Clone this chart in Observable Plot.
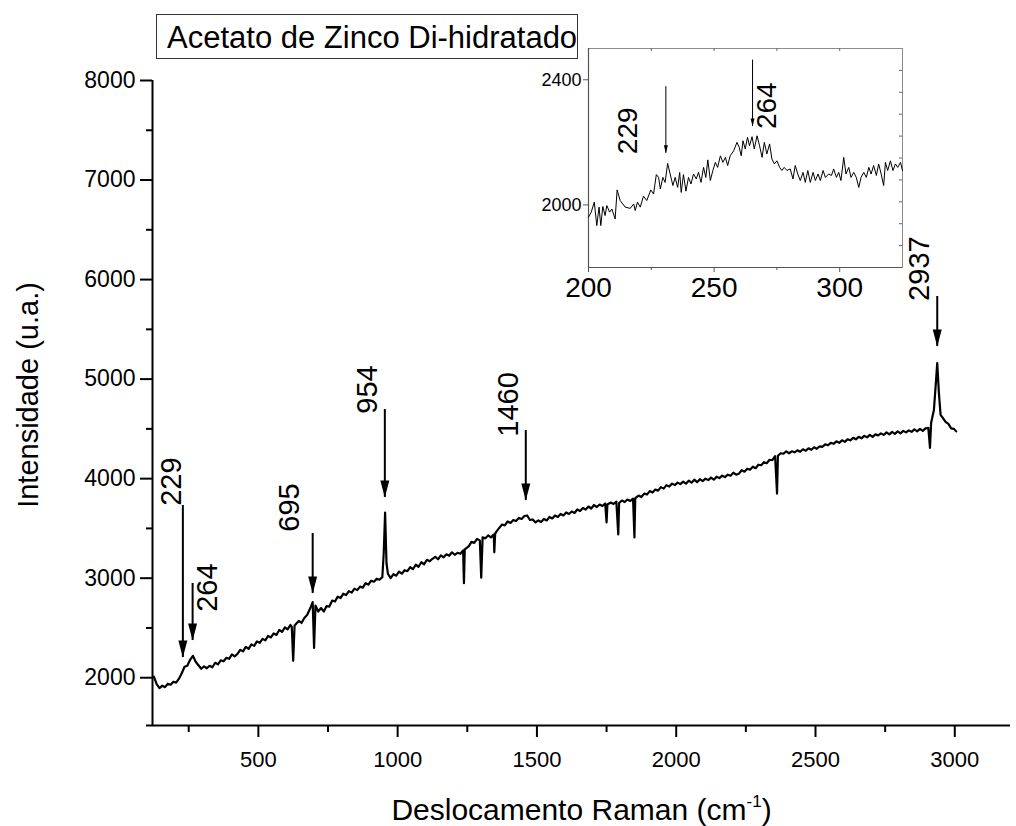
<!DOCTYPE html>
<html>
<head>
<meta charset="utf-8">
<script src="https://cdn.jsdelivr.net/npm/d3@7"></script>
<script src="https://cdn.jsdelivr.net/npm/@observablehq/plot@0.6"></script>
<style>
  body { margin: 0; background: #fff; }
  #wrap { position: relative; width: 1016px; height: 826px; font-family: "Liberation Sans", Arial, Helvetica, sans-serif; }
  #wrap svg { position: absolute; }
  #title { position: absolute; left: 156px; top: 14px; width: 422px; height: 45px; box-sizing: border-box;
           border: 1px solid #333; font-size: 31px; line-height: 46px; padding-left: 10px; color: #000; white-space: nowrap; }
</style>
</head>
<body>
<div id="wrap"><div id="title"></div></div>
<script>
// ---------- DATA ----------
const chartTitle = "Acetato de Zinco Di-hidratado";
const xTitleMain = "Deslocamento Raman (cm";
const xTitleSup = "-1";
const xTitleEnd = ")";
const yTitle = "Intensidade (u.a.)";

// Main spectrum (Raman shift, cm-1)
const shift = [
  125,135,145,155,165,175,185,195,205,215,
  225,235,245,255,265,275,285,295,305,315,
  325,335,345,355,365,375,385,395,405,415,
  425,435,445,455,465,475,485,495,505,515,
  525,535,545,555,565,575,585,595,605,615,
  620,625,630,645,655,665,675,685,695,700,705,715,
  725,735,745,755,765,775,785,795,805,815,
  825,835,845,855,865,875,885,895,905,915,
  925,935,945,950,955,960,965,975,985,995,1005,1015,
  1025,1035,1045,1055,1065,1075,1085,1095,1105,1115,
  1125,1135,1145,1155,1165,1175,1185,1195,1205,1215,
  1225,1235,1238,1241,1255,1265,1275,1285,1295,1300,1305,1315,
  1325,1335,1345,1347,1350,1355,1365,1375,1385,1395,1405,1415,
  1425,1435,1445,1455,1465,1475,1485,1495,1505,1515,
  1525,1535,1545,1555,1565,1575,1585,1595,1605,1615,
  1625,1635,1645,1655,1665,1675,1685,1695,1705,1715,
  1725,1735,1745,1750,1753,1765,1775,1785,1792,1795,1805,1815,
  1825,1835,1845,1850,1853,1865,1875,1885,1895,1905,1915,
  1925,1935,1945,1955,1965,1975,1985,1995,2005,2015,
  2025,2035,2045,2055,2065,2075,2085,2095,2105,2115,
  2125,2135,2145,2155,2165,2175,2185,2195,2205,2215,
  2225,2235,2245,2255,2265,2275,2285,2295,2305,2315,
  2325,2335,2345,2355,2362,2365,2375,2385,2395,2405,2415,
  2425,2435,2445,2455,2465,2475,2485,2495,2505,2515,
  2525,2535,2545,2555,2565,2575,2585,2595,2605,2615,
  2625,2635,2645,2655,2665,2675,2685,2695,2705,2715,
  2725,2735,2745,2755,2765,2775,2785,2795,2805,2815,
  2825,2835,2845,2855,2865,2875,2885,2895,2905,2911,2915,
  2925,2931,2937,2943,2949,2957,2967,2977,2987,2997,3005
];
// Main spectrum intensity (u.a.)
const intensity = [
  2010,1935,1895,1920,1905,1940,1930,1960,1950,1990,
  2045,2110,2120,2180,2220,2160,2125,2090,2115,2095,
  2120,2105,2150,2135,2175,2165,2200,2190,2235,2215,
  2240,2280,2265,2310,2290,2335,2320,2365,2350,2390,
  2375,2420,2405,2445,2430,2480,2460,2505,2485,2530,
  2510,2170,2525,2570,2550,2600,2630,2690,2760,2300,2725,2665,
  2700,2665,2720,2715,2775,2765,2815,2800,2845,2830,
  2870,2855,2895,2880,2915,2905,2950,2935,2975,2965,
  2995,2985,3010,3250,3660,3150,3045,3000,3040,3025,3065,3045,
  3080,3070,3110,3090,3135,3115,3160,3140,3185,3170,
  3195,3215,3190,3230,3210,3240,3225,3260,3235,3255,
  3245,3280,2950,3290,3320,3365,3355,3395,3380,3005,3410,3400,
  3430,3410,3440,3260,3445,3470,3505,3540,3530,3570,3555,3585,
  3575,3605,3595,3625,3630,3585,3590,3560,3580,3565,
  3595,3580,3615,3600,3630,3615,3645,3630,3660,3645,
  3670,3655,3690,3675,3705,3690,3720,3700,3735,3715,
  3740,3725,3750,3560,3740,3760,3745,3770,3440,3755,3780,3765,
  3790,3775,3800,3410,3805,3830,3815,3850,3840,3875,3860,
  3890,3880,3915,3900,3935,3920,3950,3935,3960,3945,
  3970,3950,3980,3960,3990,3965,3995,3975,4000,3985,
  4010,3990,4020,4005,4030,4015,4040,4030,4060,4040,
  4050,4085,4070,4100,4090,4120,4105,4140,4135,4165,
  4155,4190,4185,4225,3850,4230,4255,4250,4275,4255,4275,
  4265,4285,4270,4295,4280,4305,4290,4315,4300,4325,
  4320,4345,4335,4360,4350,4375,4360,4385,4370,4395,
  4385,4410,4395,4420,4405,4430,4415,4440,4420,4445,
  4435,4455,4440,4465,4445,4470,4450,4475,4455,4480,
  4465,4485,4470,4495,4475,4500,4480,4505,4510,4310,4560,
  4690,4920,5160,4860,4640,4610,4570,4550,4505,4500,4475
];

// Peak annotations (main chart)
const peakLabels     = ["229", "264", "695", "954", "1460", "2937"];
const peakShift      = [229, 264, 695, 954, 1460, 2937];
const arrowTail      = [3730, 2947, 3449, 4695, 4484, 5830];
const arrowTip       = [2203, 2374, 2846, 3811, 3780, 5328];
const labelShift     = [188, 317, 612, 892, 1400, 2873];
const labelIntensity = [3970, 2905, 3710, 4895, 4745, 6110];

// Main axes ticks
const xMajorTicks = [500, 1000, 1500, 2000, 2500, 3000];
const xMinorTicks = [250, 750, 1250, 1750, 2250, 2750];
const yMajorTicks = [2000, 3000, 4000, 5000, 6000, 7000, 8000];
const yMinorTicks = [2500, 3500, 4500, 5500, 6500, 7500];

// Inset spectrum (200-325 cm-1)
const insetShift = [
  200,201.1,202.3,203.3,204.2,204.9,205.7,206.6,207.3,208.4,209.3,210.6,211.4,212.6,214.6,216.6,218.0,218.6,219.5,220.6,
  221.9,223.2,224.8,225.9,227.0,227.9,228.6,229.6,230.5,231.5,232.5,233.6,234.5,235.5,236.3,236.9,237.8,238.8,239.8,240.8,
  241.8,242.9,243.8,244.8,245.8,246.7,247.5,248.5,249.5,250.5,251.4,252.5,253.5,254.5,255.4,256.4,257.8,259.1,260.0,260.8,
  261.5,262.4,263.3,264.1,265.1,266.0,267.1,268.1,269.1,270.0,271.0,272.1,273.0,274.0,275.0,276.1,277.0,277.9,279.0,280.3,
  281.4,282.3,283.3,284.3,285.4,286.3,287.3,288.3,289.4,290.3,291.4,292.3,293.4,294.3,295.6,296.7,297.6,298.7,299.6,300.5,
  301.6,302.5,303.6,304.5,305.6,306.6,307.6,308.5,309.6,310.6,311.6,312.5,313.5,314.6,315.5,316.5,317.5,318.2,319.1,320.2,
  321.2,322.2,323.1,324.2,325.0
];
const insetIntensity = [
  1961,1977,2009,1934,1993,1934,1995,1966,1998,1977,1987,1955,2048,2014,1993,1989,2003,1982,2009,1993,
  2028,2014,2048,2035,2097,2088,2051,2088,2072,2133,2099,2062,2088,2056,2104,2040,2097,2044,2088,2067,
  2099,2083,2104,2072,2120,2088,2144,2078,2110,2136,2120,2157,2136,2152,2126,2157,2173,2200,2184,2157,
  2205,2179,2216,2189,2218,2179,2221,2189,2152,2200,2163,2195,2147,2131,2141,2120,2110,2120,2110,2115,
  2083,2126,2099,2078,2104,2072,2110,2072,2104,2078,2099,2078,2110,2088,2099,2094,2115,2088,2104,2078,
  2152,2099,2120,2088,2104,2088,2056,2088,2104,2088,2120,2099,2126,2094,2131,2099,2062,2136,2110,2141,
  2110,2131,2120,2136,2110
];

// Inset annotations
const insetLabels         = ["229", "264"];
const insetArrowShift     = [230.8, 265.3];
const insetArrowTail      = [2378, 2463];
const insetArrowTip       = [2165, 2251];
const insetLabelShift     = [215.9, 271.0];
const insetLabelIntensity = [2237, 2317];

// Inset ticks
const insetXMajor = [200, 250, 300];
const insetXMinor = [225, 275];
const insetYMajor = [2000, 2400];
const insetTopTicks = [225, 250, 275, 300];
const insetRightTicks = [1870, 1940, 2010, 2080, 2150, 2220, 2290, 2360, 2430];

// ---------- BUILD ----------
const FONT = '"Liberation Sans", Arial, Helvetica, sans-serif';
const spectrum = shift.map((x, i) => ({x, y: intensity[i]}));
const peaks = peakLabels.map((label, i) => ({
  label, x: peakShift[i], tail: arrowTail[i], tip: arrowTip[i], lx: labelShift[i], ly: labelIntensity[i]
}));
const insetSpectrum = insetShift.map((x, i) => ({x, y: insetIntensity[i]}));
const insetPeaks = insetLabels.map((label, i) => ({
  label, x: insetArrowShift[i], tail: insetArrowTail[i], tip: insetArrowTip[i],
  lx: insetLabelShift[i], ly: insetLabelIntensity[i]
}));

const headMain = {draw(ctx) { ctx.moveTo(0, 0); ctx.lineTo(-4.5, -17); ctx.lineTo(4.5, -17); ctx.closePath(); }};
const headInset = {draw(ctx) { ctx.moveTo(0, 0); ctx.lineTo(-2, -8); ctx.lineTo(2, -8); ctx.closePath(); }};
const blank = () => "";
const plain = d3.format("d");

document.getElementById("title").textContent = chartTitle;

const main = Plot.plot({
  width: 1016, height: 826,
  marginLeft: 152, marginRight: 6, marginTop: 80, marginBottom: 101,
  style: {fontFamily: FONT, background: "transparent", color: "#000", overflow: "visible"},
  x: {domain: [120, 3200]},
  y: {domain: [1520, 8000]},
  marks: [
    Plot.axisX({ticks: xMajorTicks, tickFormat: plain, tickSize: 12, tickPadding: 14, fontSize: 22, strokeWidth: 2, label: null}),
    Plot.axisX({ticks: xMinorTicks, tickSize: 7, strokeWidth: 2, tickFormat: blank, label: null}),
    Plot.axisY({ticks: yMajorTicks, tickFormat: plain, tickSize: 12, tickPadding: 5, fontSize: 23, strokeWidth: 2, label: null}),
    Plot.axisY({ticks: yMinorTicks, tickSize: 6, strokeWidth: 2, tickFormat: blank, label: null}),
    Plot.ruleY([1520], {strokeWidth: 2, insetLeft: -6}),
    Plot.ruleX([120], {strokeWidth: 2}),
    Plot.line(spectrum, {x: "x", y: "y", stroke: "#000", strokeWidth: 2.2}),
    Plot.ruleX(peaks, {x: "x", y1: "tail", y2: "tip", strokeWidth: 2}),
    Plot.dot(peaks, {x: "x", y: "tip", symbol: headMain, r: 5, fill: "#000", stroke: "none"}),
    Plot.text(peaks, {x: "lx", y: "ly", text: "label", rotate: -90, fontSize: 29, fill: "#000"}),
    Plot.text([yTitle], {frameAnchor: "left", textAnchor: "middle", lineAnchor: "middle", dx: -124, dy: -8, rotate: -90, fontSize: 29, fill: "#000"}),
    Plot.text([xTitleMain + xTitleSup + xTitleEnd], {frameAnchor: "bottom", textAnchor: "middle", lineAnchor: "middle", dy: 85, fontSize: 30, fill: "#000"})
  ]
});
main.style.left = "0px";
main.style.top = "0px";

// superscript on the x title
d3.select(main).selectAll("text")
  .filter(function () { return this.textContent === xTitleMain + xTitleSup + xTitleEnd; })
  .each(function () {
    const t = d3.select(this);
    t.text(null);
    t.append("tspan").text(xTitleMain);
    t.append("tspan").attr("font-size", 17).attr("dy", -13).text(xTitleSup);
    t.append("tspan").attr("dy", 13).text(xTitleEnd);
  });

const inset = Plot.plot({
  width: 380, height: 270,
  marginLeft: 48, marginRight: 18, marginTop: 8, marginBottom: 43,
  style: {fontFamily: FONT, background: "transparent", color: "#000", overflow: "visible"},
  x: {domain: [200, 325]},
  y: {domain: [1800, 2500]},
  marks: [
    Plot.frame({stroke: "#8c8c8c", strokeWidth: 1}),
    Plot.ruleX([200], {stroke: "#555", strokeWidth: 1.2}),
    Plot.ruleY([1800], {stroke: "#555", strokeWidth: 1.2}),
    Plot.axisX({ticks: insetXMajor, tickFormat: plain, tickSize: 5, tickPadding: 5, fontSize: 28, stroke: "#555", label: null}),
    Plot.axisX({ticks: insetXMinor, tickSize: 3, stroke: "#555", tickFormat: blank, label: null}),
    Plot.axisY({ticks: insetYMajor, tickFormat: plain, tickSize: 5, tickPadding: 2, fontSize: 18, stroke: "#555", label: null}),
    Plot.tickX(insetTopTicks, {x: d => d, insetBottom: 216, stroke: "#666"}),
    Plot.tickY(insetRightTicks, {y: d => d, insetLeft: 311, stroke: "#666"}),
    Plot.line(insetSpectrum, {x: "x", y: "y", stroke: "#000", strokeWidth: 1}),
    Plot.ruleX(insetPeaks, {x: "x", y1: "tail", y2: "tip", strokeWidth: 1}),
    Plot.dot(insetPeaks, {x: "x", y: "tip", symbol: headInset, r: 3, fill: "#000", stroke: "none"}),
    Plot.text(insetPeaks, {x: "lx", y: "ly", text: "label", rotate: -90, fontSize: 28, fill: "#000"})
  ]
});
inset.style.left = "540px";
inset.style.top = "40px";

const wrap = document.getElementById("wrap");
wrap.insertBefore(main, wrap.firstChild);
wrap.appendChild(inset);
</script>
</body>
</html>
